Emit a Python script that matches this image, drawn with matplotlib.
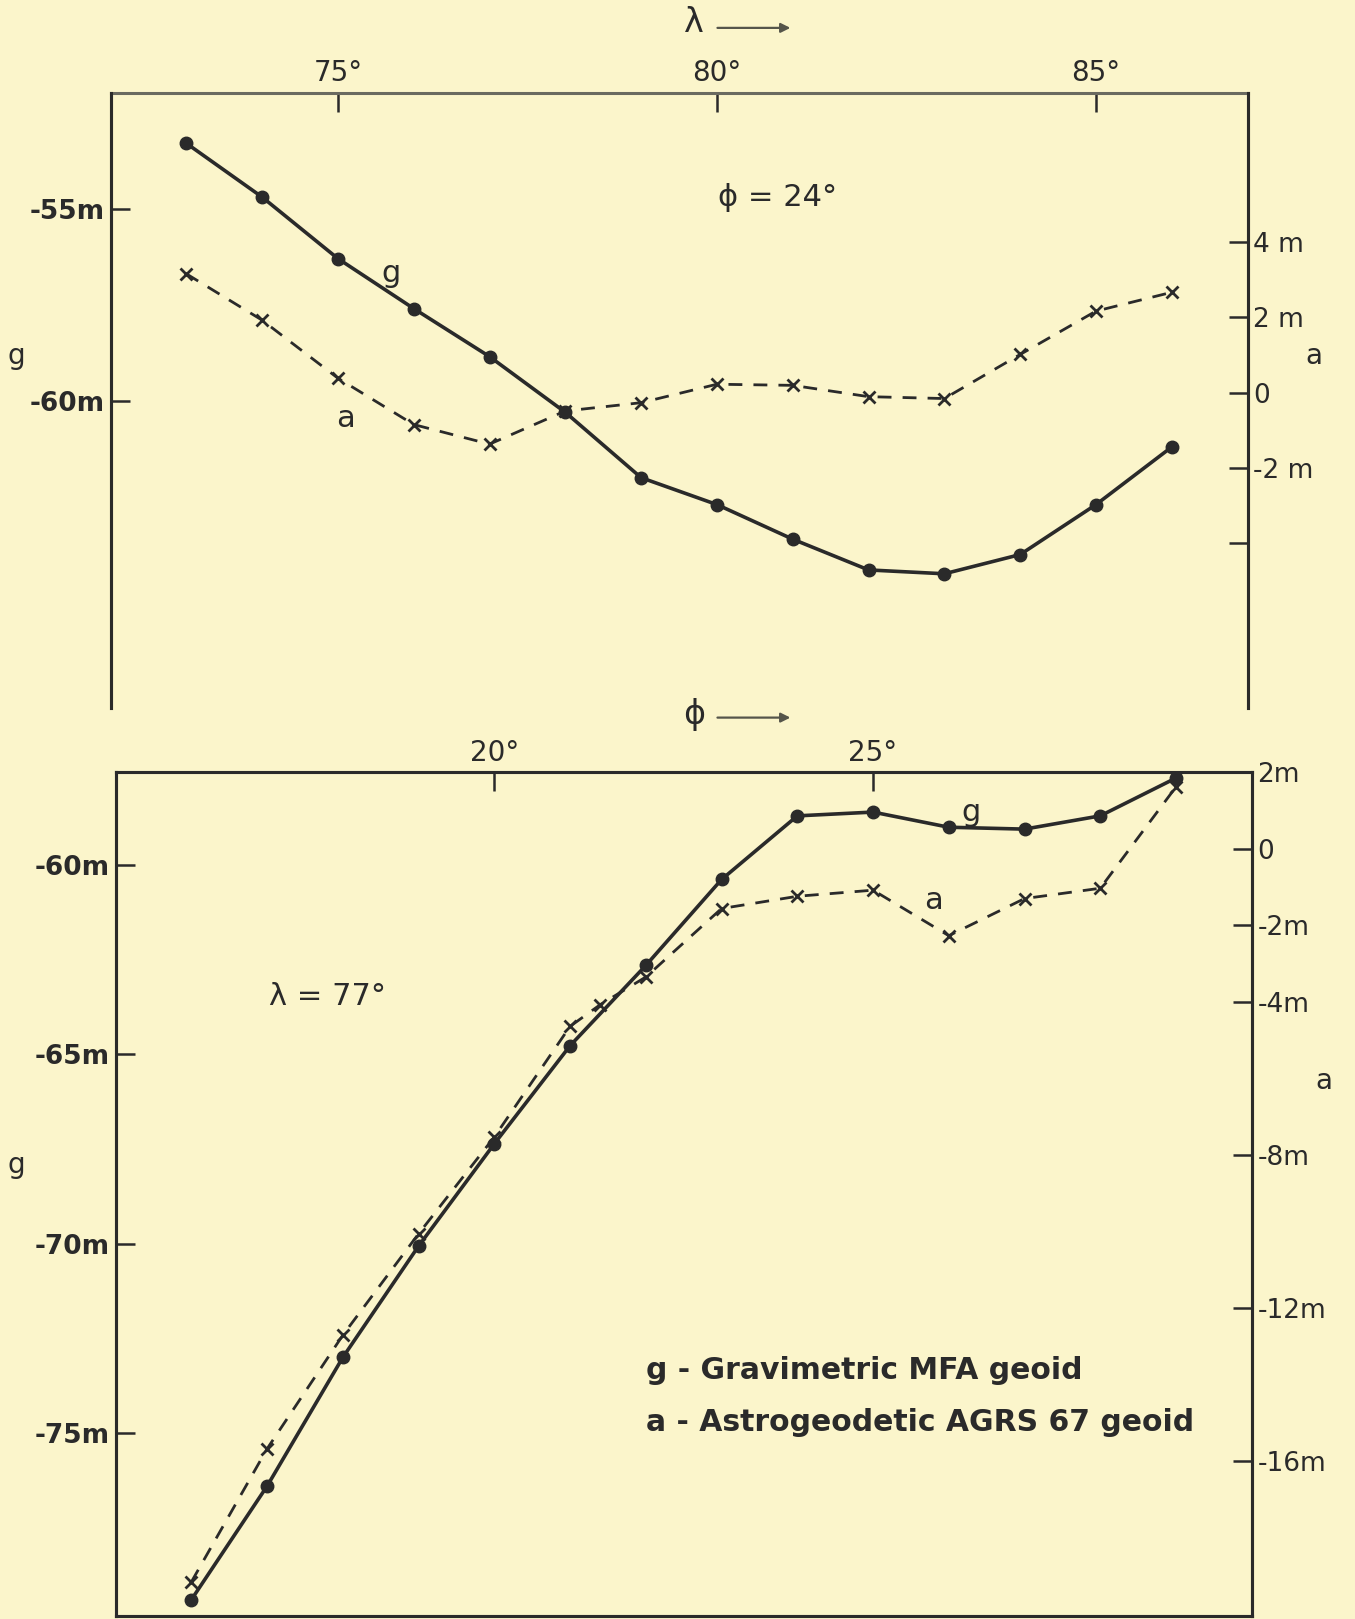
import matplotlib
matplotlib.use("Agg")
import matplotlib.pyplot as plt

# ---- data ----
# top panel: profile along phi = 24 deg
lam = [73, 74, 75, 76, 77, 78, 79, 80, 81, 82, 83, 84, 85, 86]
g_top = [-53.3, -54.7, -56.3, -57.6, -58.85, -60.3, -62.0, -62.7, -63.6, -64.4, -64.5, -64.0, -62.7, -61.2]
a_top = [3.15, 1.92, 0.38, -0.85, -1.37, -0.49, -0.27, 0.22, 0.19, -0.11, -0.16, 1.01, 2.16, 2.66]

# bottom panel: profile along lambda = 77 deg
phi_g = [16, 17, 18, 19, 20, 21, 22, 23, 24, 25, 26, 27, 28, 29]
g_bot = [-79.4, -76.4, -73.0, -70.06, -67.36, -64.77, -62.65, -60.38, -58.7, -58.6, -59.0, -59.05, -58.7, -57.7]
phi_a = [16, 17, 18, 19, 20, 21, 21.4, 22, 23, 24, 25, 26, 27, 28, 29]
a_bot = [-19.16, -15.68, -12.71, -10.06, -7.53, -4.64, -4.07, -3.35, -1.56, -1.24, -1.08, -2.27, -1.30, -1.03, 1.62]

top_xt = [75, 80, 85]
top_gt = [-55, -60]
top_at = [4, 2, 0, -2, -4]
top_at_lab = ["4 m", "2 m", "0", "-2 m", ""]
bot_xt = [20, 25]
bot_gt = [-60, -65, -70, -75]
bot_at = [2, 0, -2, -4, -8, -12, -16]
bot_at_lab = ["2m", "0", "-2m", "-4m", "-8m", "-12m", "-16m"]

paper = "#FBF5CB"
ink = "#2a2a2a"
W, H = 1312.0, 1568.0   # layout worked out on the shrunk reference


def fx(x):
    return x / W


def fy(y):
    return 1 - y / H


plt.rcParams["font.family"] = ["DejaVu Sans"]
fig = plt.figure(figsize=(13.55, 16.19), dpi=100, facecolor=paper)


def style(ax):
    ax.set_facecolor("none")
    for s in ax.spines.values():
        s.set_color(ink)
        s.set_linewidth(2.2)
    ax.tick_params(direction="in", length=14, width=1.8, colors=ink,
                   labelsize=19, pad=4)


# ---------- top panel ----------
ax1 = fig.add_axes([fx(107), fy(686), fx(1208) - fx(107), (686 - 90) / H])
style(ax1)
ax1.set_xlim(72, 87)
ax1.set_ylim(-68.0, -51.99)
ax1.xaxis.tick_top()
ax1.set_xticks(top_xt)
ax1.set_xticklabels([f"{v}°" for v in top_xt], fontsize=20)
ax1.set_yticks(top_gt)
ax1.set_yticklabels([f"{v}m" for v in top_gt], fontweight="bold", fontsize=19)
ax1.spines["bottom"].set_visible(False)
ax1.spines["top"].set_color("#6a6a60")
ax1.plot(lam, g_top, "-", color=ink, lw=2.6, marker="o", ms=9)

ax1r = ax1.twinx()
style(ax1r)
ax1r.set_ylim(-8.38, 7.95)
ax1r.set_yticks(top_at)
ax1r.set_yticklabels(top_at_lab)
ax1r.spines["bottom"].set_visible(False)
ax1r.spines["top"].set_visible(False)
ax1r.plot(lam, a_top, "--", color=ink, lw=2.0, dashes=(5, 4),
          marker="x", ms=8, mew=2)

ax1.text(80.8, -54.7, "ϕ = 24°", fontsize=22, color=ink, ha="center", va="center")
ax1.text(75.7, -56.7, "g", fontsize=22, color=ink, ha="center", va="center")
ax1.text(75.1, -60.45, "a", fontsize=22, color=ink, ha="center", va="center")

# ---------- bottom panel ----------
ax2 = fig.add_axes([fx(112), fy(1565), fx(1212) - fx(112), (1565 - 748) / H])
style(ax2)
ax2.set_xlim(15, 30)
ax2.set_ylim(-79.83, -57.55)
ax2.xaxis.tick_top()
ax2.set_xticks(bot_xt)
ax2.set_xticklabels([f"{v}°" for v in bot_xt], fontsize=20)
ax2.set_yticks(bot_gt)
ax2.set_yticklabels([f"{v}m" for v in bot_gt], fontweight="bold", fontsize=19)
ax2.spines["top"].set_color("#6a6a60")
ax2.plot(phi_g, g_bot, "-", color=ink, lw=2.6, marker="o", ms=9)

ax2r = ax2.twinx()
style(ax2r)
ax2r.set_ylim(-20.05, 2.0)
ax2r.set_yticks(bot_at)
ax2r.set_yticklabels(bot_at_lab)
ax2r.plot(phi_a, a_bot, "--", color=ink, lw=2.0, dashes=(5, 4),
          marker="x", ms=8, mew=2)

ax2.text(26.3, -58.6, "g", fontsize=22, color=ink, ha="center", va="center")
ax2.text(25.8, -60.93, "a", fontsize=22, color=ink, ha="center", va="center")
ax2.text(17.8, -63.46, "λ = 77°", fontsize=22, color=ink, ha="center", va="center")
ax2.text(22.0, -73.36, "g - Gravimetric MFA geoid", fontsize=21.5, color=ink,
         fontweight="bold", ha="left", va="center")
ax2.text(22.0, -74.73, "a - Astrogeodetic AGRS 67 geoid", fontsize=21.5, color=ink,
         fontweight="bold", ha="left", va="center")

# ---------- loose labels around the frames ----------
fig.text(fx(672), fy(22), "λ", fontsize=24, color=ink, ha="center", va="center")
fig.text(fx(672), fy(692), "ϕ", fontsize=24, color=ink, ha="center", va="center")
for yy in (27, 695):
    fig.add_artist(matplotlib.patches.FancyArrowPatch(
        (fx(692), fy(yy)), (fx(768), fy(yy)), transform=fig.transFigure,
        arrowstyle="-|>", mutation_scale=14, color="#55554a", lw=1.6))
fig.text(fx(16), fy(345), "g", fontsize=20, color=ink, ha="center", va="center")
fig.text(fx(1272), fy(345), "a", fontsize=20, color=ink, ha="center", va="center")
fig.text(fx(16), fy(1128), "g", fontsize=20, color=ink, ha="center", va="center")
fig.text(fx(1282), fy(1047), "a", fontsize=20, color=ink, ha="center", va="center")

fig.savefig("out.png", dpi=100, facecolor=paper)
